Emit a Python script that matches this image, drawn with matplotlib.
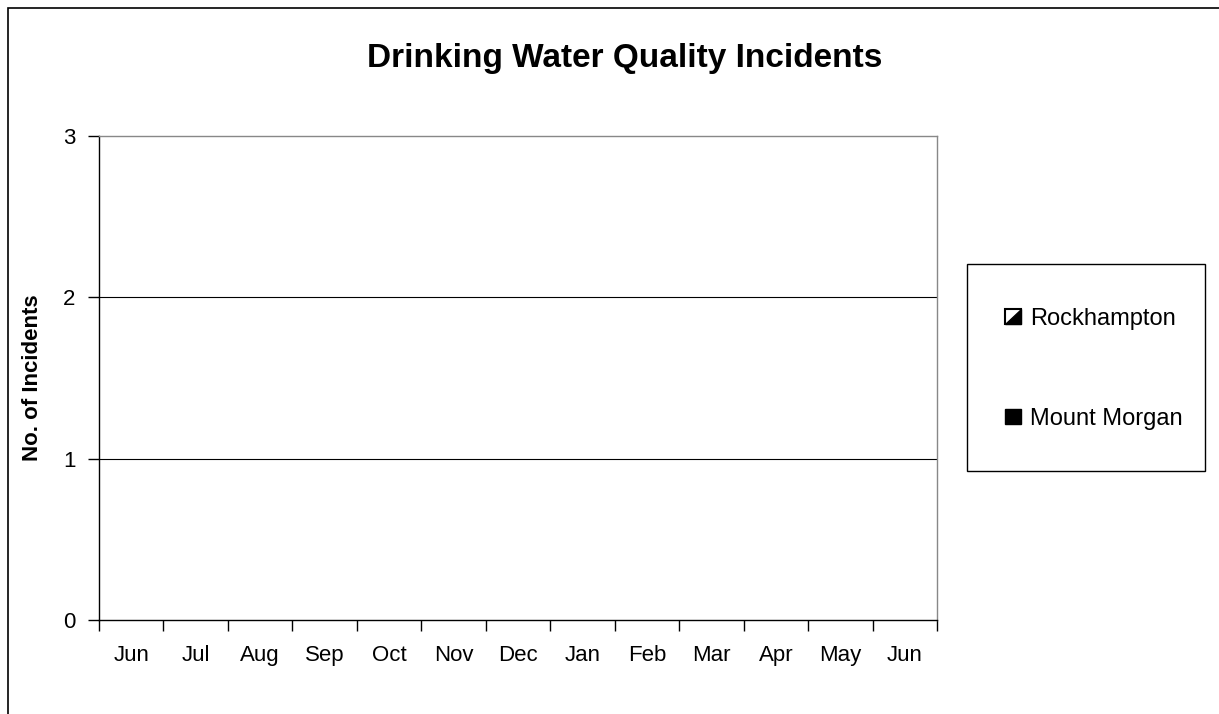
import matplotlib
matplotlib.use("Agg")
import matplotlib.pyplot as plt
import numpy as np
from matplotlib.patches import Rectangle, Polygon
from matplotlib.legend_handler import HandlerBase

months = ["Jun", "Jul", "Aug", "Sep", "Oct", "Nov", "Dec", "Jan", "Feb", "Mar", "Apr", "May", "Jun"]
rockhampton = [0, 0, 0, 0, 0, 0, 0, 0, 0, 0, 0, 0, 0]
mount_morgan = [0, 0, 0, 0, 0, 0, 0, 0, 0, 0, 0, 0, 0]
yticks = [0, 1, 2, 3]

plt.rcParams['font.family'] = ['Liberation Sans', 'DejaVu Sans']

fig = plt.figure(figsize=(12.19, 7.14), dpi=100)
W, H = 1219, 714
# figure border (only left/top visible)
fig.patches.append(Rectangle((8 / W, -0.1), 1.2, (714 - 8) / H + 0.1, transform=fig.transFigure,
                             fill=False, edgecolor='black', linewidth=1.2))

ax = fig.add_axes([99 / W, 1 - 620 / H, (937 - 99) / W, (620 - 136) / H])
x = np.arange(len(months))
bw = 0.3
b1 = ax.bar(x - bw / 2, rockhampton, bw, facecolor='white', edgecolor='none', label='Rockhampton')
b2 = ax.bar(x + bw / 2, mount_morgan, bw, facecolor='black', edgecolor='none', label='Mount Morgan')

ax.set_xlim(-0.5, len(months) - 0.5)
ax.set_ylim(0, 3)
ax.set_yticks(yticks)
ax.set_yticklabels([str(v) for v in yticks], fontsize=16)
ax.set_xticks(np.arange(-0.5, len(months), 1))
ax.set_xticklabels([])
ax.set_xticks(x, minor=True)
ax.set_xticklabels(months, minor=True, fontsize=16)
ax.tick_params(axis='x', which='major', direction='out', length=8, width=1, color='black')
ax.tick_params(axis='x', which='minor', length=0, pad=18)
ax.tick_params(axis='y', direction='out', length=8, width=1, pad=9)
for v in yticks[1:3]:
    ax.axhline(v, color='black', linewidth=0.8, zorder=0)
ax.spines['top'].set_color('#888888')
ax.spines['right'].set_color('#888888')
ax.spines['left'].set_color('black')
ax.spines['bottom'].set_color('black')
for s in ax.spines.values():
    s.set_linewidth(1)

fig.text(33 / W, 1 - 378 / H, 'No. of Incidents', rotation=90, ha='center', va='center',
         fontsize=16, fontweight='bold')
fig.text(625 / W, 1 - 58 / H, 'Drinking Water Quality Incidents', ha='center', va='center',
         fontsize=24, fontweight='bold')


class HalfHandler(HandlerBase):
    def create_artists(self, legend, orig_handle, xdescent, ydescent, width, height, fontsize, trans):
        s = min(width, height) * 1.0
        x0 = xdescent + width - s
        y0 = -ydescent + (height - s) / 2
        sq = Rectangle((x0, y0), s, s, facecolor='white', edgecolor='black', linewidth=1.5, transform=trans)
        tri = Polygon([(x0, y0), (x0 + s, y0), (x0 + s, y0 + s)], closed=True, facecolor='black',
                      edgecolor='black', transform=trans)
        return [sq, tri]


class FullHandler(HandlerBase):
    def create_artists(self, legend, orig_handle, xdescent, ydescent, width, height, fontsize, trans):
        s = min(width, height) * 1.0
        x0 = xdescent + width - s
        y0 = -ydescent + (height - s) / 2
        sq = Rectangle((x0, y0), s, s, facecolor='black', edgecolor='black', transform=trans)
        return [sq]


fig.patches.append(Rectangle((967 / W, 1 - 471 / H), (1205 - 967) / W, (471 - 264) / H,
                             transform=fig.transFigure, fill=False, edgecolor='black', linewidth=1))
leg = fig.legend([b1, b2], ['Rockhampton', 'Mount Morgan'],
                 handler_map={b1: HalfHandler(), b2: FullHandler()},
                 loc='center', bbox_to_anchor=((1205 + 967) / 2 / W + 8 / W, 1 - 369 / H),
                 fontsize=17, frameon=False, labelspacing=3.3,
                 handlelength=0.65, handleheight=0.65, handletextpad=0.4, borderpad=0)

fig.savefig('out.png', dpi=100)
